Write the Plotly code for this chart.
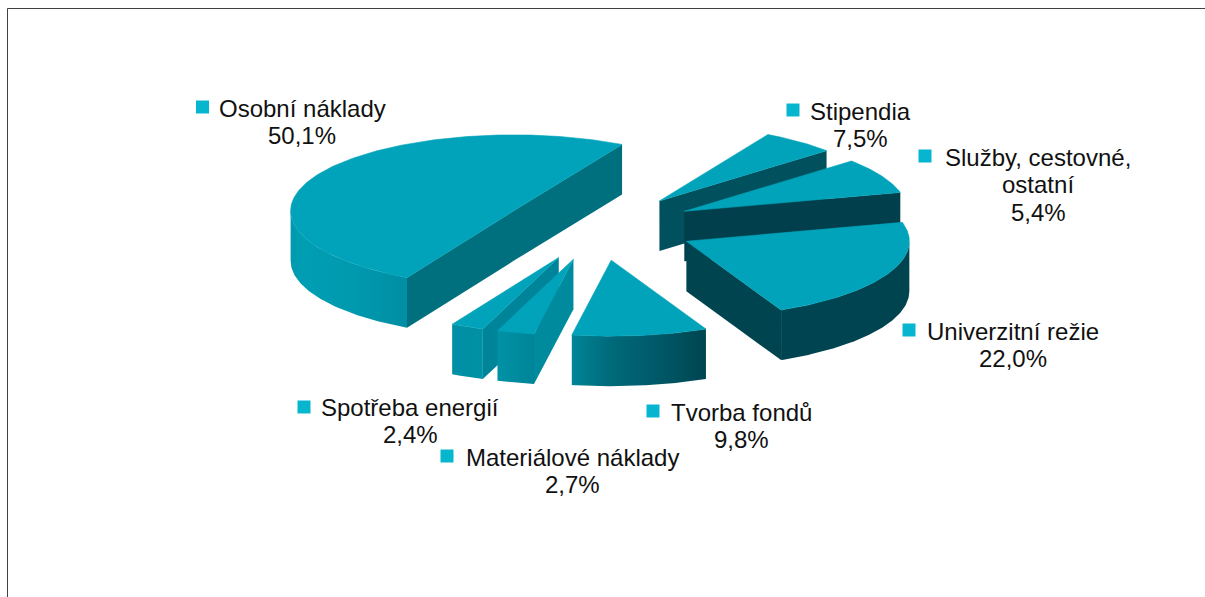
import numpy as np
import plotly.graph_objects as go

# ---- data (in drawing order round the pie, counter-clockwise from the start angle)
labels = ["Osobní náklady", "Spotřeba energií", "Materiálové náklady", "Tvorba fondů",
          "Univerzitní režie", "Stipendia", "Služby, cestovné,\nostatní"]
values = [50.1, 2.4, 2.7, 9.8, 22.0, 7.5, 5.4]
value_text = ["50,1%", "2,4%", "2,7%", "9,8%", "22,0%", "7,5%", "5,4%"]

# ---- layout / style
W, H = 1205, 597
CX, CY = 598.6, 227.0      # pie centre in pixels
RX, RY = 223.0, 76.0       # ellipse radii
DEPTH = 50.0
EXPLODE_X, EXPLODE_Y = 0.435, 0.44
START = 60.9               # degrees, counter-clockwise
LINE_STEP = 27.8
TOP = "#00a3b9"
MARK = "#06b6cf"
cut_colors = ["#006f7e", "#00849a", "#008a9e", "#00606e", "#004450", "#003f4b", "#00505d"]
draw_order = [6, 5, 4, 0, 1, 2, 3]
rim_stops = [(180, "#0097ac"), (200, "#009fb4"), (225, "#0099ae"), (242, "#008fa4"),
             (250, "#0092a6"), (260, "#008598"), (270, "#006a7a"), (285, "#005563"),
             (295, "#004552"), (360, "#004450")]
# marker centre x, y; text centre x, first line centre y
label_pos = [(202.5, 107, 302, 108), (304, 407, 410, 407), (447, 456, 572, 457), (653, 411, 741, 412),
             (909, 330, 1013, 331), (793, 110, 860, 111), (925, 156, 1038, 157)]


def hex2rgb(c):
    return np.array([int(c[i:i + 2], 16) for i in (1, 3, 5)], float)


def rim_color(t):
    a = [s[0] for s in rim_stops]
    rgb = np.array([hex2rgb(s[1]) for s in rim_stops])
    return "rgb(%d,%d,%d)" % tuple(np.interp(t, a, rgb[:, i]) for i in range(3))


def pt(t, cx, cy):
    r = np.radians(t)
    return cx + RX * np.cos(r), cy - RY * np.sin(r)


fig = go.Figure()


def poly(xs, ys, color=None, gradient=None, edge=0):
    tr = dict(x=list(xs), y=list(ys), mode="lines", fill="toself",
              line=dict(width=edge, color=color if edge else None),
              hoverinfo="skip", showlegend=False)
    if gradient is not None:
        tr["fillgradient"] = gradient
    else:
        tr["fillcolor"] = color
    fig.add_trace(go.Scatter(**tr))


total = sum(values)
starts = START + np.concatenate([[0], np.cumsum(values)[:-1]]) / total * 360
ends = starts + np.array(values) / total * 360

for i in draw_order:
    s, e = starts[i], ends[i]
    mid = np.radians((s + e) / 2)
    cx = CX + EXPLODE_X * RX * np.cos(mid)
    cy = CY - EXPLODE_Y * RY * np.sin(mid)

    # radial cut faces, as one outline so that a straight cut shows no seam
    top_pts = []
    if np.cos(np.radians(s)) > 0:
        top_pts.append(pt(s, cx, cy))
    top_pts.append((cx, cy))
    if np.cos(np.radians(e)) < 0:
        top_pts.append(pt(e, cx, cy))
    if len(top_pts) > 1:
        xs = [p[0] for p in top_pts] + [p[0] for p in top_pts[::-1]]
        ys = [p[1] for p in top_pts] + [p[1] + DEPTH for p in top_pts[::-1]]
        poly(xs, ys, color=cut_colors[i])

    # outer rim (only the front half of the ellipse can be seen)
    a0, a1 = max(s, 180), min(e, 360)
    if a1 > a0:
        ts = np.linspace(a0, a1, 90)
        xa, ya = pt(ts, cx, cy)
        xs = np.concatenate([xa, xa[::-1]])
        ys = np.concatenate([ya, ya[::-1] + DEPTH])
        x0, x1 = xa.min(), xa.max()
        order = np.argsort(xa)
        picks = np.unique(order[np.linspace(0, len(order) - 1, 16).astype(int)])
        picks = sorted(picks, key=lambda k: xa[k])
        scale = [[float((xa[k] - x0) / (x1 - x0)), rim_color(ts[k])] for k in picks]
        scale[0][0], scale[-1][0] = 0.0, 1.0
        poly(xs, ys, gradient=dict(type="horizontal", colorscale=scale, start=float(x0), stop=float(x1)))

    # top face
    ts = np.linspace(s, e, max(int(e - s) * 2, 8))
    xa, ya = pt(ts, cx, cy)
    poly(np.concatenate([[cx], xa, [cx]]), np.concatenate([[cy], ya, [cy]]), color=TOP, edge=0.6)

# label markers
fig.add_trace(go.Scatter(x=[p[0] for p in label_pos], y=[p[1] for p in label_pos], mode="markers",
                         marker=dict(symbol="square", size=13, color=MARK, line=dict(width=0)),
                         hoverinfo="skip", showlegend=False))

for lab, txt, p in zip(labels, value_text, label_pos):
    for k, line in enumerate(lab.split("\n") + [txt]):
        fig.add_annotation(x=p[2], y=p[3] + k * LINE_STEP, text=line, showarrow=False, align="center",
                           xanchor="center", yanchor="middle",
                           font=dict(family="Liberation Sans", size=24, color="#111111"))

# chart frame
fig.add_shape(type="line", x0=7.5, x1=7.5, y0=8.5, y1=H + 5, line=dict(color="#404040", width=1))
fig.add_shape(type="line", x0=7.5, x1=W + 5, y0=8.5, y1=8.5, line=dict(color="#404040", width=1))

fig.update_layout(width=W, height=H, autosize=False, margin=dict(l=0, r=0, t=0, b=0),
                  paper_bgcolor="white", plot_bgcolor="white", showlegend=False,
                  xaxis=dict(range=[0, W], visible=False, fixedrange=True),
                  yaxis=dict(range=[H, 0], visible=False, fixedrange=True))

fig.write_html("out.html", config=dict(displayModeBar=False),
               post_script="document.body.style.margin='0';document.body.style.overflow='hidden';")
